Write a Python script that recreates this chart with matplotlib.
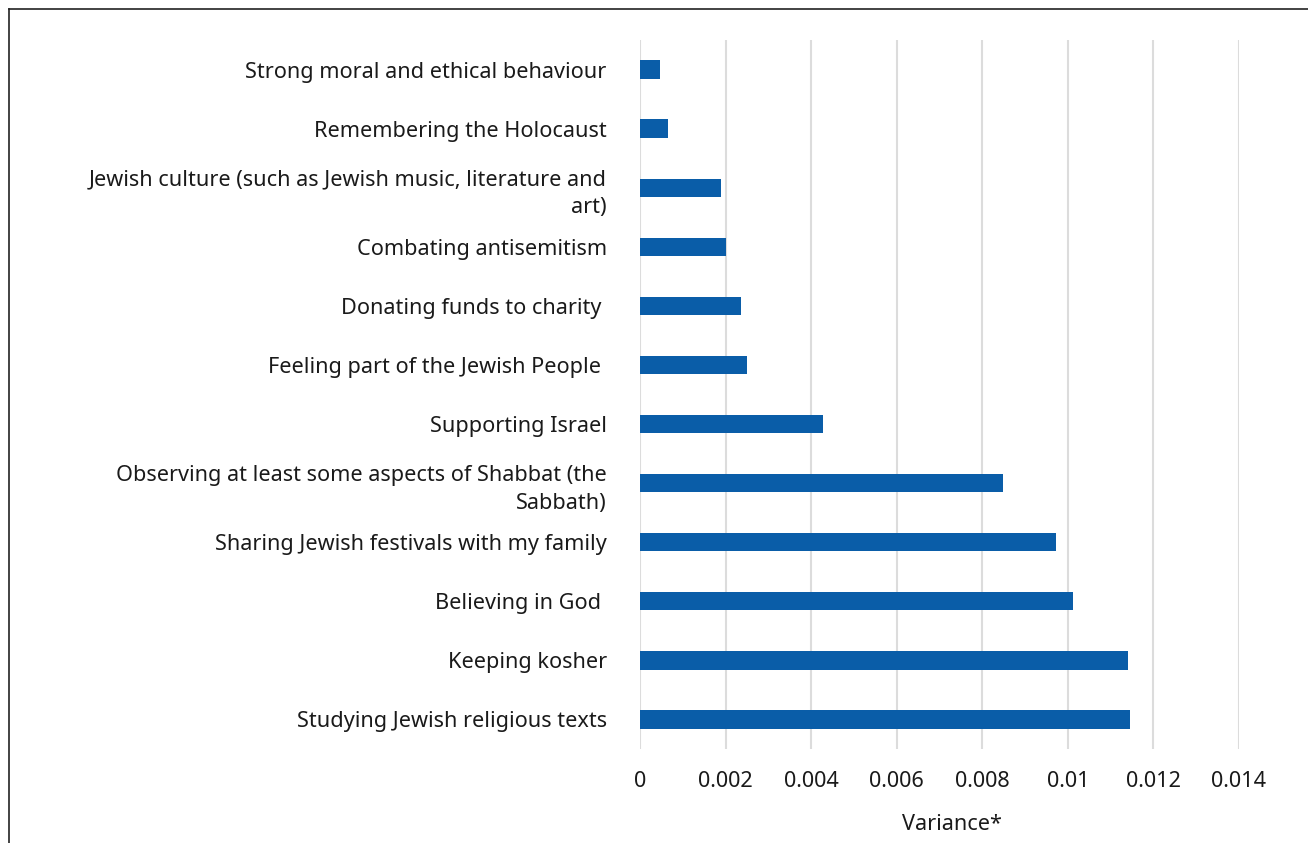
import matplotlib
matplotlib.use("Agg")
import matplotlib.pyplot as plt
from matplotlib.lines import Line2D

# categories listed top to bottom as in the chart
categories = [
    "Strong moral and ethical behaviour",
    "Remembering the Holocaust",
    "Jewish culture (such as Jewish music, literature and\nart)",
    "Combating antisemitism",
    "Donating funds to charity ",
    "Feeling part of the Jewish People ",
    "Supporting Israel",
    "Observing at least some aspects of Shabbat (the\nSabbath)",
    "Sharing Jewish festivals with my family",
    "Believing in God ",
    "Keeping kosher",
    "Studying Jewish religious texts",
]
variance = [0.00047, 0.00065, 0.00189, 0.00201, 0.00236, 0.0025,
            0.00428, 0.00848, 0.00972, 0.01012, 0.0114, 0.01145]
x_ticks = [0, 0.002, 0.004, 0.006, 0.008, 0.01, 0.012, 0.014]
x_tick_labels = ["0", "0.002", "0.004", "0.006", "0.008", "0.01", "0.012", "0.014"]

plt.rcParams["font.family"] = ["Noto Sans", "DejaVu Sans"]
FS = 15.6

W, H = 1308, 843
fig = plt.figure(figsize=(W / 100, H / 100), dpi=100)
ax = fig.add_axes([640 / W, 1 - 749 / H, 599 / W, 709 / H])

ypos = list(range(len(categories)))
ax.barh(ypos, variance, height=0.31, color="#0a5da8", zorder=3)

ax.set_ylim(len(categories) - 0.5, -0.5)
ax.set_xlim(0, 0.014)
ax.set_yticks(ypos)
ax.set_yticklabels(categories, fontsize=FS, color="#1a1a1a", linespacing=1.45)
ax.set_xticks(x_ticks)
ax.set_xticklabels(x_tick_labels, fontsize=FS, color="#1a1a1a")
ax.tick_params(axis="both", length=0)
ax.tick_params(axis="y", pad=24)
ax.tick_params(axis="x", pad=16)

for s in ax.spines.values():
    s.set_visible(False)
ax.grid(axis="x", color="#dcdcdc", linewidth=1.5, zorder=0)

ax.set_xlabel("Variance*", fontsize=FS, color="#1a1a1a")
ax.xaxis.set_label_coords((952 - 640) / 599, (749 - 814) / 709)

# frame lines along the top and left edges
fig.add_artist(Line2D([9 / W, 1], [1 - 9 / H, 1 - 9 / H], color="#222222", linewidth=1.2))
fig.add_artist(Line2D([9 / W, 9 / W], [0, 1 - 9 / H], color="#222222", linewidth=1.2))

fig.savefig("out.png", dpi=100)
